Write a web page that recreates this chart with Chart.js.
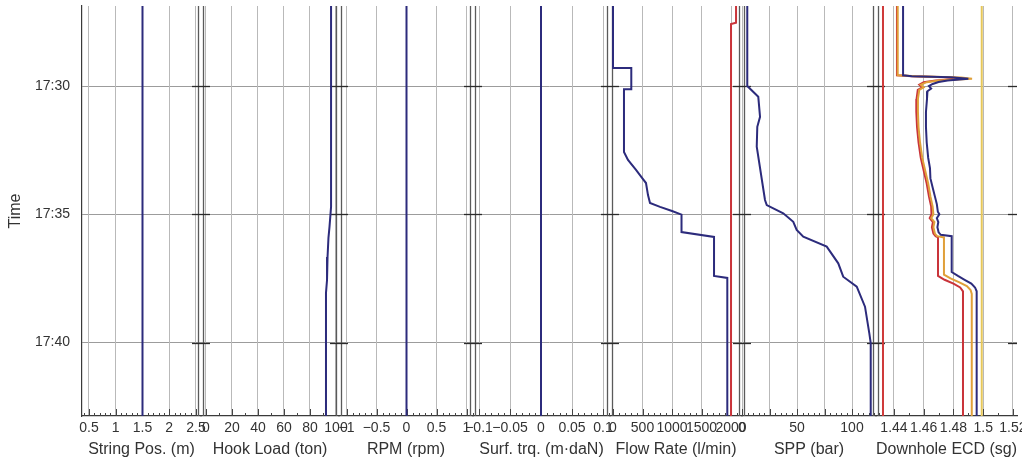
<!DOCTYPE html>
<html><head><meta charset="utf-8">
<script src="https://cdn.jsdelivr.net/npm/chart.js@4/dist/chart.umd.min.js"></script>
<style>html,body{margin:0;padding:0;background:#fff;}#wrap{width:1022px;height:462px;}</style>
</head><body><div id="wrap"><canvas id="c" width="1022" height="462"></canvas></div>
<script>
// ---------- data (time in minutes after 17:00) ----------
const trackTitles = ['String Pos. (m)', 'Hook Load (ton)', 'RPM (rpm)', 'Surf. trq. (m\u00b7daN)', 'Flow Rate (l/min)', 'SPP (bar)', 'Downhole ECD (sg)'];
const timeTicks = [30, 35, 40];

const stringPosTicks = [0.5, 1, 1.5, 2, 2.5];
const hookLoadTicks = [0, 20, 40, 60, 80, 100];
const rpmTicks = [-1, -0.5, 0, 0.5, 1];
const torqueTicks = [-0.1, -0.05, 0, 0.05, 0.1];
const flowTicks = [0, 500, 1000, 1500, 2000];
const sppTicks = [0, 25, 50, 75, 100];
const sppLabeled = [0, 50, 100];
const ecdTicks = [1.44, 1.46, 1.48, 1.5, 1.52];

const stringPosTime = [26.88, 42.86];
const stringPosValue = [1.5, 1.5];

const hookLoadTime = [26.88, 34.71, 35.49, 35.92, 36.66, 37.56, 38.06, 42.86];
const hookLoadValue = [96.2, 96.2, 95.0, 94.2, 93.5, 93.1, 92.3, 92.3];

const rpmTime = [26.88, 42.86];
const rpmValue = [0, 0];

const torqueTime = [26.88, 42.86];
const torqueValue = [0, 0];

const flowInTime = [26.88, 29.30, 29.30, 30.12, 30.12, 32.57, 32.88, 33.27, 33.58, 33.78, 34.25, 34.56, 34.71, 34.87, 35.01, 35.69, 35.88, 37.40, 37.48, 42.86];
const flowInValue = [0, 0, 310, 310, 186, 186, 254, 390, 492, 559, 593, 627, 797, 1000, 1161, 1161, 1712, 1712, 1937, 1937];

const flowOutTime = [26.88, 27.53, 27.58, 42.86];
const flowOutValue = [2085, 2085, 2000, 2000];

const sppTime = [26.88, 30.0, 30.42, 31.2, 31.59, 32.36, 34.44, 34.64, 34.96, 35.29, 35.61, 35.87, 36.26, 36.91, 37.43, 37.82, 38.6, 39.63, 40.02, 42.86];
const sppValue = [4.8, 4.8, 14.8, 16.4, 13.9, 13.4, 20.9, 22.5, 37.5, 46.6, 49.7, 55.7, 77, 87.5, 92, 104.3, 111.8, 115.7, 117, 117];

const ecdBlueTime = [26.88, 29.58, 29.62, 29.66, 29.72, 29.78, 29.84, 29.92, 30.0, 30.1, 30.2, 30.5, 31.0, 31.6, 32.2, 32.8, 33.2, 33.6, 34.0, 34.3, 34.6, 34.9, 35.0, 35.15, 35.3, 35.5, 35.7, 35.8, 35.85, 37.25, 37.4, 37.55, 37.7, 37.85, 38.0, 42.86];
const ecdBlueValue = [1.4461, 1.4461, 1.452, 1.478, 1.490, 1.476, 1.470, 1.466, 1.4635, 1.465, 1.4625, 1.4622, 1.4615, 1.4615, 1.462, 1.463, 1.4642, 1.4645, 1.4662, 1.4675, 1.4688, 1.4695, 1.4705, 1.4688, 1.4698, 1.4692, 1.4700, 1.4715, 1.4788, 1.4788, 1.4830, 1.4875, 1.4920, 1.4945, 1.4956, 1.4956];

const ecdYellowTime = [26.88, 29.58, 29.62, 29.67, 29.72, 29.78, 29.85, 29.95, 30.05, 30.15, 30.5, 31.0, 31.6, 32.2, 32.8, 33.3, 33.8, 34.3, 34.7, 35.0, 35.15, 35.3, 35.5, 35.75, 35.85, 35.9, 37.35, 37.5, 37.65, 37.8, 37.95, 38.1, 42.86];
const ecdYellowValue = [1.4425, 1.4425, 1.455, 1.485, 1.4925, 1.470, 1.462, 1.458, 1.460, 1.457, 1.4561, 1.4561, 1.4565, 1.4575, 1.459, 1.461, 1.463, 1.4645, 1.466, 1.4665, 1.4650, 1.4672, 1.4665, 1.4675, 1.4690, 1.4736, 1.4736, 1.4780, 1.4840, 1.4890, 1.4915, 1.4923, 1.4923];

const ecdRedTime = [26.88, 29.58, 29.62, 29.67, 29.72, 29.78, 29.85, 29.95, 30.05, 30.15, 30.5, 31.0, 31.6, 32.2, 32.8, 33.3, 33.8, 34.3, 34.7, 35.0, 35.15, 35.3, 35.5, 35.75, 35.85, 35.9, 37.4, 37.55, 37.7, 37.85, 38.0, 42.86];
const ecdRedValue = [1.4420, 1.4420, 1.452, 1.480, 1.486, 1.468, 1.460, 1.457, 1.459, 1.456, 1.4552, 1.455, 1.4555, 1.4565, 1.458, 1.460, 1.462, 1.4635, 1.465, 1.4652, 1.4640, 1.4662, 1.4655, 1.4665, 1.4680, 1.4696, 1.4696, 1.4740, 1.4800, 1.4845, 1.4864, 1.4864];

const ecdLowLimitTime = [26.88, 42.86];
const ecdLowLimitValue = [1.4326, 1.4326];
const ecdHighLimitTime = [26.88, 42.86];
const ecdHighLimitValue = [1.499, 1.499];

// ---------- styling / layout ----------
const FONT = '"Liberation Sans", Arial, Helvetica, sans-serif';
const BLUE = '#2c2b7c', RED = '#c9343a', ORANGE = '#e0a03a', GOLD = '#e6c75a', CRED = '#cf3a3a';

function fmt(v) { return v < 0 ? '\u2212' + String(-v) : String(v); }
function timeLabel(v) { return '17:' + String(v).padStart(2, '0'); }
function pts(t, v) { return t.map((tt, i) => ({ x: v[i], y: tt })); }

const trackIds = ['x1', 'x2', 'x3', 'x4', 'x5', 'x6', 'x7'];
const trackTickSets = [stringPosTicks, hookLoadTicks, rpmTicks, torqueTicks, flowTicks, sppTicks, ecdTicks];
const minorDiv = [5, 2, 5, 5, 5, 5, 2];

function xAxis(i, min, max, weight, labeled) {
  const ticks = trackTickSets[i];
  return {
    type: 'linear', position: 'bottom', stack: 'tracks', stackWeight: weight,
    min: min, max: max, offset: false,
    afterBuildTicks: s => { s.ticks = ticks.map(v => ({ value: v })); },
    afterFit: s => { s.height = 46; s.paddingLeft = 0; s.paddingRight = 0; },
    grid: { color: '#b9b9b9', lineWidth: 1, drawTicks: false },
    border: { display: true, color: '#3a3a3a', width: 1.2 },
    ticks: {
      autoSkip: false, maxRotation: 0, minRotation: 0, padding: 4, color: '#333',
      font: { size: 14, family: FONT },
      callback: v => (labeled && labeled.indexOf(v) < 0) ? '' : fmt(v)
    },
    title: { display: true, text: trackTitles[i], color: '#333', font: { size: 16, family: FONT }, padding: { top: 0, bottom: 3 } }
  };
}

const trackFrame = {
  id: 'trackFrame',
  beforeDatasetsDraw(chart) {
    const ctx = chart.ctx, a = chart.chartArea, ys = chart.scales.y;
    ctx.save();
    // tick marks on bottom axis (pointing up)
    ctx.strokeStyle = '#444'; ctx.lineWidth = 1;
    trackIds.forEach((id, i) => {
      const s = chart.scales[id], tk = trackTickSets[i];
      const step = (tk[1] - tk[0]) / minorDiv[i];
      const start = Math.ceil(s.min / step - 1e-6);
      const end = Math.floor(s.max / step + 1e-6);
      for (let k = start; k <= end; k++) {
        const v = k * step;
        const major = Math.abs(k % minorDiv[i]) === 0 && tk.some(t => Math.abs(t - v) < step / 10);
        const px = Math.round(s.getPixelForValue(v)) + 0.5;
        ctx.beginPath(); ctx.moveTo(px, a.bottom); ctx.lineTo(px, a.bottom - (major ? 7 : 3)); ctx.stroke();
      }
    });
    // double boundary lines between tracks
    ctx.strokeStyle = '#5a5a5a'; ctx.lineWidth = 1.3;
    const bounds = trackIds.slice(1).map(id => chart.scales[id].left);
    bounds.forEach(b => {
      [-2.5, 2.5].forEach(d => {
        ctx.beginPath(); ctx.moveTo(b + d, a.top); ctx.lineTo(b + d, a.bottom); ctx.stroke();
      });
    });
    // dark time tick marks at track edges
    ctx.strokeStyle = '#2a2a2a'; ctx.lineWidth = 1.3;
    timeTicks.forEach(t => {
      const py = Math.round(ys.getPixelForValue(t)) + 0.5;
      bounds.forEach(b => { ctx.beginPath(); ctx.moveTo(b - 9, py); ctx.lineTo(b + 9, py); ctx.stroke(); });
      ctx.beginPath(); ctx.moveTo(a.right - 9, py); ctx.lineTo(a.right, py); ctx.stroke();
    });
    ctx.restore();
  }
};

function ds(xid, t, v, color, w) {
  return { xAxisID: xid, yAxisID: 'y', data: pts(t, v), showLine: true, borderColor: color, backgroundColor: color, borderWidth: w || 2, pointRadius: 0, tension: 0 };
}

new Chart(document.getElementById('c'), {
  type: 'scatter',
  data: {
    datasets: [
      ds('x1', stringPosTime, stringPosValue, BLUE),
      ds('x2', hookLoadTime, hookLoadValue, BLUE),
      ds('x3', rpmTime, rpmValue, BLUE),
      ds('x4', torqueTime, torqueValue, BLUE),
      ds('x5', flowInTime, flowInValue, BLUE),
      ds('x5', flowOutTime, flowOutValue, RED),
      ds('x6', sppTime, sppValue, BLUE),
      ds('x7', ecdBlueTime, ecdBlueValue, BLUE),
      ds('x7', ecdYellowTime, ecdYellowValue, ORANGE),
      ds('x7', ecdRedTime, ecdRedValue, RED),
      ds('x7', ecdLowLimitTime, ecdLowLimitValue, CRED),
      ds('x7', ecdHighLimitTime, ecdHighLimitValue, GOLD)
    ]
  },
  options: {
    responsive: false, animation: false, devicePixelRatio: 1,
    layout: { padding: { top: 6, right: 5, bottom: 0, left: 0 }, autoPadding: false },
    plugins: { legend: { display: false }, tooltip: { enabled: false } },
    events: [],
    scales: {
      y: {
        type: 'linear', position: 'left', reverse: true, min: 26.88, max: 42.86,
        afterBuildTicks: s => { s.ticks = timeTicks.map(v => ({ value: v })); },
        afterFit: s => { s.width = 82; s.paddingTop = 0; s.paddingBottom = 0; },
        grid: { color: '#9c9c9c', lineWidth: 1, drawTicks: false },
        border: { display: true, color: '#3a3a3a', width: 1.2 },
        ticks: { padding: 12, color: '#333', font: { size: 14, family: FONT }, callback: v => timeLabel(v) },
        title: { display: true, text: 'Time', color: '#333', font: { size: 16, family: FONT }, padding: { top: 6, bottom: 0 } }
      },
      x1: xAxis(0, 0.3692, 2.5935, 119),
      x2: xAxis(1, -3.846, 102.31, 138),
      x3: xAxis(2, -1.125, 1.1083, 134),
      x4: xAxis(3, -0.10968, 0.11129, 137),
      x5: xAxis(4, -50.8, 2186, 132),
      x6: xAxis(5, 0, 121.8, 134, sppLabeled),
      x7: xAxis(6, 1.4279, 1.52272, 141)
    }
  },
  plugins: [trackFrame]
});
</script></body></html>
